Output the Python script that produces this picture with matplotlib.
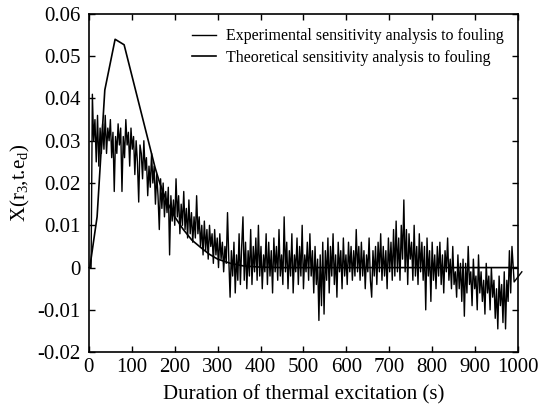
import numpy as np
import matplotlib
matplotlib.use("Agg")
import matplotlib.pyplot as plt

plt.rcParams['font.family'] = 'serif'
plt.rcParams['font.serif'] = ['Liberation Serif', 'DejaVu Serif']
plt.rcParams['mathtext.fontset'] = 'custom'
plt.rcParams['mathtext.rm'] = 'Liberation Serif'
plt.rcParams['mathtext.it'] = 'Liberation Serif:italic'

# experimental signal, values in units of 1e-3
exp_start_t = [0, 5]
exp_start = [0, 0]
exp_step = 3
exp_first_t = 8
exp_milli = [
    41, 30, 35, 25, 36, 24, 33, 27,
    34, 28, 36, 27, 33, 30, 35, 26, 32, 18,
    31, 27, 34, 29, 33, 18, 31, 26, 35, 29,
    32, 24, 33, 28, 31, 22, 30, 25, 15.5, 29,
    27, 21, 30, 23, 26, 17, 24, 19, 27, 20,
    24, 15, 22, 17, 9, 21, 14, 20, 12, 18,
    13, 19, 3, 17, 11, 16, 10, 21, 12, 17,
    8, 15, 10, 18, 9, 14, 7, 16, 8, 13,
    6, 12, 7, 17, 8, 12, 5, 10, 3, 11,
    4, 9, 2, 10, 5, 8, 1, 9, 3, 7,
    0, 8, 2, 6, -1, 5, 1, 13, 2, -7,
    4, -2, 6, -6, 3, -3, 8, -4, 5, 12,
    -3, 6, -5, 4, -2, 9, -4, 5, -1, 7,
    -3, 10, -2, 5, -5, 3, -1, 8, -4, 6,
    -2, 4, -6, 7, -1, 5, -3, 9, -2, 3,
    -4, 12, -1, 6, -5, 4, -2, 8, -6, 3,
    -1, 7, -4, 5, -2, 10, -5, 3, -1, 6,
    -3, 8, -2, 4, -6, 5, -4, 2, -12.5, 3,
    -9, 6, -11, 4, -3, 7, -6, 5, -2, 8,
    -4, 3, -7, 6, -1, 4, -5, 7, -2, 3,
    -4, 6, -1, 5, -3, 4, -2, 9, -1, 5,
    -3, 6, -2, 4, -5, 3, -1, 7, -3, -7,
    4, -2, 5, -4, 6, -1, 8, -3, 5, -2,
    4, -5, 7, -1, 6, -3, 9, -2, 11, -1,
    7, -3, 10, 2, 16, -1, 9, -4, 8, 2,
    6, -3, 10, -2, 5, -4, 8, -1, 6, -3,
    5, -10, 7, -2, 4, -8, 6, -3, 3, -5,
    5, -2, 6, -4, 3, -6, 4, -1, 7, -3,
    2, -5, 5, -4, -1, -7, 3, -5, 1, -8,
    2, -11.5, 1, -6, 5, -4, -1, -9, 2, -5,
    -2, -10, 3, -6, -1, -8, -3, -11, 1, -6,
    -2, -10, 0, -7, -3, -12, -5, -14.5, -2, -9,
    -4, -13, -1, -14.5, -3, -8, 4, -6, 5,
]
exp_tail_t = [991, 1009]
exp_tail = [-3.4, -1.0]

# theoretical curve, values in units of 1e-3
theo_t = [2, 19, 37, 61, 82, 154, 165, 180, 200, 220, 240, 260, 280, 300,
          330, 360, 400, 450, 1000]
theo_milli = [0, 12, 42, 54, 52.7, 23.7, 20, 16, 12, 9, 6.5, 4.8, 3.2, 2,
              1, 0.4, 0.1, 0, 0]

x_ticks = [0, 100, 200, 300, 400, 500, 600, 700, 800, 900, 1000]
y_ticks = [-0.02, -0.01, 0, 0.01, 0.02, 0.03, 0.04, 0.05, 0.06]
y_tick_labels = ['-0.02', '-0.01', '0', '0.01', '0.02', '0.03', '0.04', '0.05', '0.06']

body_t = exp_first_t + exp_step * np.arange(len(exp_milli))
exp_t = np.concatenate([exp_start_t, body_t, exp_tail_t])
exp_vals = np.concatenate([exp_start, exp_milli, exp_tail]) * 1e-3
theo_vals = np.array(theo_milli) * 1e-3

fig = plt.figure(figsize=(5.39, 4.09), dpi=100)
ax = fig.add_axes([0.165, 0.139, 0.796, 0.827])

ax.plot(exp_t, exp_vals, color='black', lw=1.0,
        label='Experimental sensitivity analysis to fouling', clip_on=False)
ax.plot(theo_t, theo_vals, color='black', lw=1.2,
        label='Theoretical sensitivity analysis to fouling')

ax.set_xlim(0, 1000)
ax.set_ylim(-0.02, 0.06)
ax.set_xticks(x_ticks)
ax.set_yticks(y_ticks)
ax.set_yticklabels(y_tick_labels)
ax.tick_params(direction='in', top=True, right=True, length=4, width=1,
               labelsize=15)
ax.tick_params(axis='y', pad=6)
ax.tick_params(axis='x', pad=4)
for sp in ax.spines.values():
    sp.set_linewidth(1.2)

ax.set_xlabel('Duration of thermal excitation (s)', fontsize=15, labelpad=6)
ax.set_ylabel('X(r$_3$,t.e$_\\mathrm{d}$)', fontsize=15, labelpad=4)

ax.legend(loc='upper right', frameon=False, fontsize=11.5, handlelength=1.5,
          handletextpad=0.6, labelspacing=0.35, borderaxespad=0.5)

fig.savefig('out.png', dpi=100)
